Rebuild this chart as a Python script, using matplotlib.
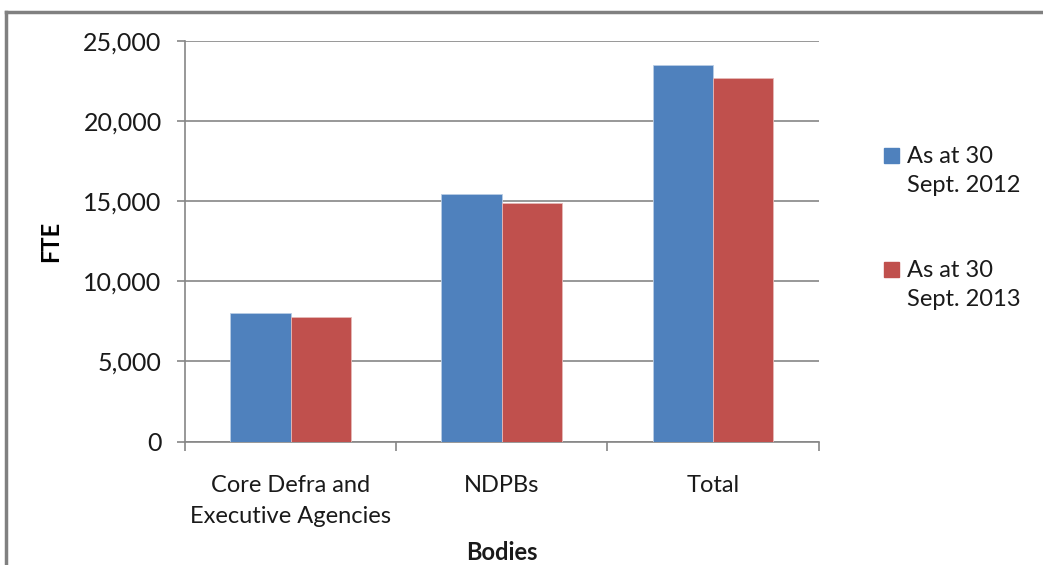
import numpy as np
import matplotlib.pyplot as plt
from matplotlib.patches import Rectangle
from matplotlib.lines import Line2D

# -------- Data --------
categories = ['Core Defra and\nExecutive Agencies', 'NDPBs', 'Total']
fte_2012 = [8000, 15430, 23520]
fte_2013 = [7750, 14870, 22710]
series_labels = ['As at 30\nSept. 2012', 'As at 30\nSept. 2013']
y_ticks = [0, 5000, 10000, 15000, 20000, 25000]

BLUE = '#4F81BD'
RED = '#C0504D'
GRID = '#868686'
TXT = '#1a1a1a'
FONT = 'Lato'
FS = 17

plt.rcParams['font.family'] = [FONT, 'DejaVu Sans']

W, H = 1043, 565
fig = plt.figure(figsize=(W / 100, H / 100), dpi=100)
ax = fig.add_axes([185 / W, 1 - 441.5 / H, (818.5 - 185) / W, (441.5 - 41) / H])

# -------- Bars (gap width 150%) --------
x = np.arange(len(categories))
bw = 1 / 3.5
ax.bar(x - bw / 2, fte_2012, bw, color=BLUE, edgecolor='#B9CDE5', linewidth=0.6, zorder=3)
ax.bar(x + bw / 2, fte_2013, bw, color=RED, edgecolor='#E6B9B8', linewidth=0.6, zorder=3)

# -------- Axes --------
ax.set_xlim(-0.5, len(categories) - 0.5)
ax.set_ylim(0, 25000)
ax.set_yticks(y_ticks)
ax.set_yticklabels(['{:,}'.format(v) for v in y_ticks])
ax.set_xticks(x)
ax.set_xticklabels(categories, linespacing=1.6)
ax.set_xticks(np.arange(len(categories) + 1) - 0.5, minor=True)

ax.yaxis.grid(True, color=GRID, linewidth=1.2, zorder=0)
ax.set_axisbelow(True)
for side in ['top', 'right']:
    ax.spines[side].set_visible(False)
for side in ['left', 'bottom']:
    ax.spines[side].set_color(GRID)
    ax.spines[side].set_linewidth(1.2)

ax.tick_params(axis='y', length=5.8, width=1.2, color=GRID, pad=11, labelsize=18, labelcolor=TXT)
ax.tick_params(axis='x', which='major', length=0, pad=24, labelsize=FS, labelcolor=TXT)
ax.tick_params(axis='x', which='minor', length=6.5, width=1.2, color=GRID)

ax.set_ylabel('FTE', fontsize=FS, fontweight='bold')
ax.yaxis.set_label_coords(-(185 - 62) / (818.5 - 185), 0.5)
fig.text(501.5 / W, 1 - 564 / H, 'Bodies', fontsize=FS, fontweight='bold',
         ha='center', va='bottom', color=TXT)

# -------- Legend --------
for label, color, ytop in zip(series_labels, [BLUE, RED], [148, 262]):
    fig.add_artist(Rectangle((884 / W, 1 - (ytop + 15) / H), 15 / W, 15 / H,
                             transform=fig.transFigure, color=color))
    fig.text(907 / W, 1 - (ytop - 2) / H, label, fontsize=FS, ha='left', va='top',
             linespacing=1.5, color=TXT)

# -------- Outer frame --------
fig.add_artist(Line2D([6 / W, 6 / W], [0, 1 - 12 / H], transform=fig.transFigure,
                      color='#808080', linewidth=2.5))
fig.add_artist(Line2D([6 / W, 1], [1 - 12 / H, 1 - 12 / H], transform=fig.transFigure,
                      color='#808080', linewidth=2.5))

fig.savefig('out.png', dpi=100)
